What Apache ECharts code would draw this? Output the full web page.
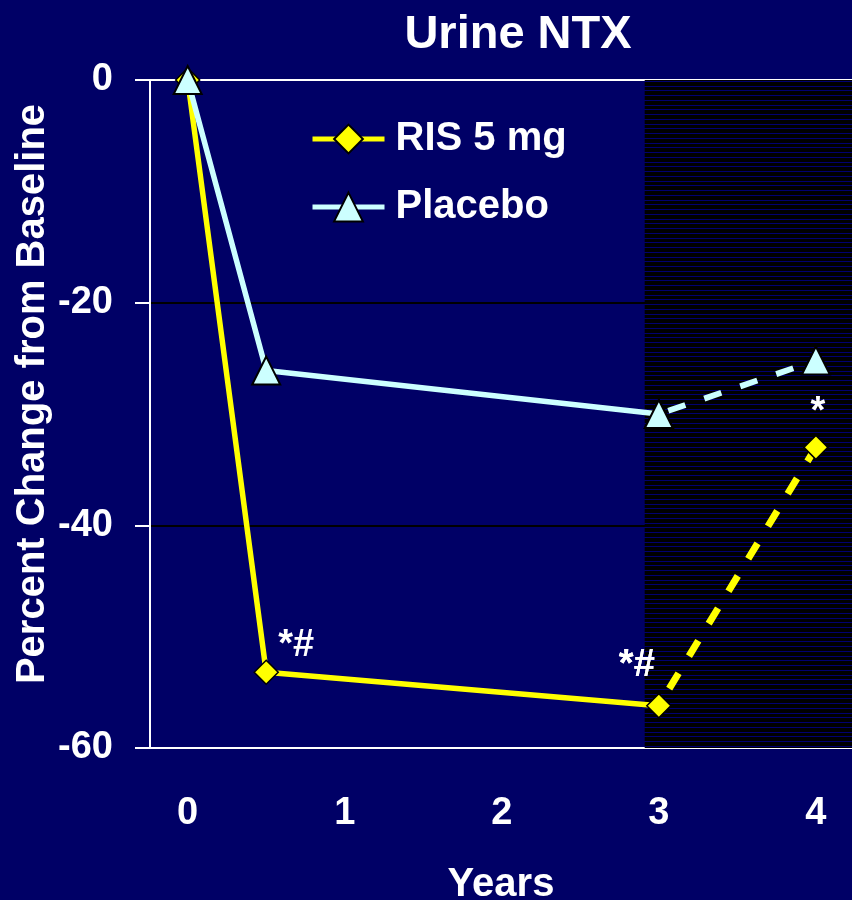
<!DOCTYPE html>
<html>
<head>
<meta charset="utf-8">
<script src="https://cdn.jsdelivr.net/npm/echarts@6/dist/echarts.min.js"></script>
<style>
  html, body { margin: 0; padding: 0; background: #000066; }
  #chart { width: 852px; height: 900px; }
</style>
</head>
<body>
<div id="chart"></div>
<script>
// ---- Data ----
const chartTitle = 'Urine NTX';
const xTitle = 'Years';
const yTitle = 'Percent Change from Baseline';
const years = [0, 0.5, 3, 4];
const risValues = [0, -53.2, -56.2, -33.0];
const placeboValues = [0, -26.1, -30.0, -25.2];
const risNotes = ['', '*#', '*#', '*'];
const xTickValues = [0, 1, 2, 3, 4];
const yTickValues = [0, -20, -40, -60];
const seriesNames = ['RIS 5 mg', 'Placebo'];
const shadedFromYear = [2.91];
const solidIdx = [0, 1, 2];
const dashedIdx = [2, 3];

// ---- styling ----
const BG = '#000066';
const YELLOW = '#ffff00';
const CYAN = '#ccffff';
const FONT = 'Liberation Sans, Arial, sans-serif';

// striped pattern for follow-up period
const pat = document.createElement('canvas');
pat.width = 4; pat.height = 19;
const pc = pat.getContext('2d');
pc.fillStyle = '#000000';
pc.fillRect(0, 0, 4, 19);
pc.fillStyle = '#000070';
[0, 5, 10, 14].forEach(y => pc.fillRect(0, y, 4, 1));

const noteOffsets = [[0, 0], [30, -27], [-22, -40], [2, -35]];

function pts(vals, idxs, notes) {
  return idxs.map(i => {
    const item = { value: [years[i], vals[i]] };
    if (notes && notes[i]) {
      item.label = {
        show: true, formatter: notes[i], position: 'inside',
        offset: noteOffsets[i], color: '#ffffff',
        fontSize: 38, fontWeight: 'bold', fontFamily: FONT
      };
    }
    return item;
  });
}

const chart = echarts.init(document.getElementById('chart'), null, { renderer: 'canvas' });

const option = {
  backgroundColor: BG,
  animation: false,
  title: {
    text: chartTitle, left: 513, top: 7, textAlign: 'center',
    textStyle: { color: '#fff', fontSize: 47, fontWeight: 'bold', fontFamily: FONT }
  },
  legend: {
    data: seriesNames,
    orient: 'vertical',
    left: 305, top: 114,
    itemWidth: 72, itemHeight: 36, itemGap: 28,
    lineStyle: { width: 5 },
    textStyle: { color: '#fff', fontSize: 40, fontWeight: 'bold', fontFamily: FONT, lineHeight: 40, padding: [0, 0, 0, 6] }
  },
  grid: { left: 150, right: 0, top: 80, bottom: 152, containLabel: false, outerBoundsMode: 'none' },
  xAxis: {
    type: 'value', min: -0.24, max: 4.23,
    name: xTitle, nameLocation: 'middle', nameGap: 117,
    nameTextStyle: { color: '#fff', fontSize: 40, fontWeight: 'bold', fontFamily: FONT },
    axisLine: { show: true, onZero: false, lineStyle: { color: '#fff', width: 2 } },
    axisTick: { show: false },
    splitLine: { show: false },
    axisLabel: {
      customValues: xTickValues, color: '#fff', fontSize: 38, fontWeight: 'bold',
      fontFamily: FONT, margin: 47
    }
  },
  yAxis: {
    type: 'value', min: -60, max: 0, interval: 20,
    axisLine: { show: true, onZero: false, lineStyle: { color: '#fff', width: 2 } },
    axisTick: { show: true, length: 15, lineStyle: { color: '#fff', width: 2 } },
    splitLine: { show: true, lineStyle: { color: ['#fff', '#000', '#000', '#fff'], width: 2 } },
    axisLabel: {
      color: '#fff', fontSize: 38, fontWeight: 'bold', fontFamily: FONT, margin: 37,
      padding: [6, 0, 0, 0]
    }
  },
  graphic: [{
    type: 'text', x: 33, y: 394, rotation: Math.PI / 2,
    style: {
      text: yTitle, fill: '#fff', fontSize: 40, fontWeight: 'bold', fontFamily: FONT,
      align: 'center', verticalAlign: 'middle'
    }
  }],
  series: [
    {
      name: 'shade', type: 'line', data: [], z: -1, silent: true,
      markArea: {
        silent: true,
        itemStyle: { color: { image: pat, repeat: 'repeat' } },
        data: [[{ xAxis: shadedFromYear[0], yAxis: 0 }, { xAxis: 4.23, yAxis: -60 }]]
      }
    },
    {
      name: seriesNames[0] + ' follow-up', type: 'line', data: pts(risValues, dashedIdx, risNotes),
      symbol: 'diamond', symbolSize: 24,
      itemStyle: { color: YELLOW, borderColor: '#000', borderWidth: 1.5 },
      lineStyle: { color: YELLOW, width: 7, type: [18, 20], dashOffset: -20 },
      z: 3
    },
    {
      name: seriesNames[0], type: 'line', data: pts(risValues, solidIdx, risNotes),
      symbol: 'diamond', symbolSize: 24,
      itemStyle: { color: YELLOW, borderColor: '#000', borderWidth: 1.5 },
      lineStyle: { color: YELLOW, width: 5.5 },
      z: 4
    },
    {
      name: seriesNames[1] + ' follow-up', type: 'line', data: pts(placeboValues, dashedIdx),
      symbol: 'triangle', symbolSize: 28,
      itemStyle: { color: CYAN, borderColor: '#000', borderWidth: 2 },
      lineStyle: { color: CYAN, width: 6, type: [18, 20], dashOffset: -10 },
      z: 5
    },
    {
      name: seriesNames[1], type: 'line', data: pts(placeboValues, solidIdx),
      symbol: 'triangle', symbolSize: 28,
      itemStyle: { color: CYAN, borderColor: '#000', borderWidth: 2 },
      lineStyle: { color: CYAN, width: 5.5 },
      z: 6
    }
  ]
};
chart.setOption(option);
</script>
</body>
</html>
